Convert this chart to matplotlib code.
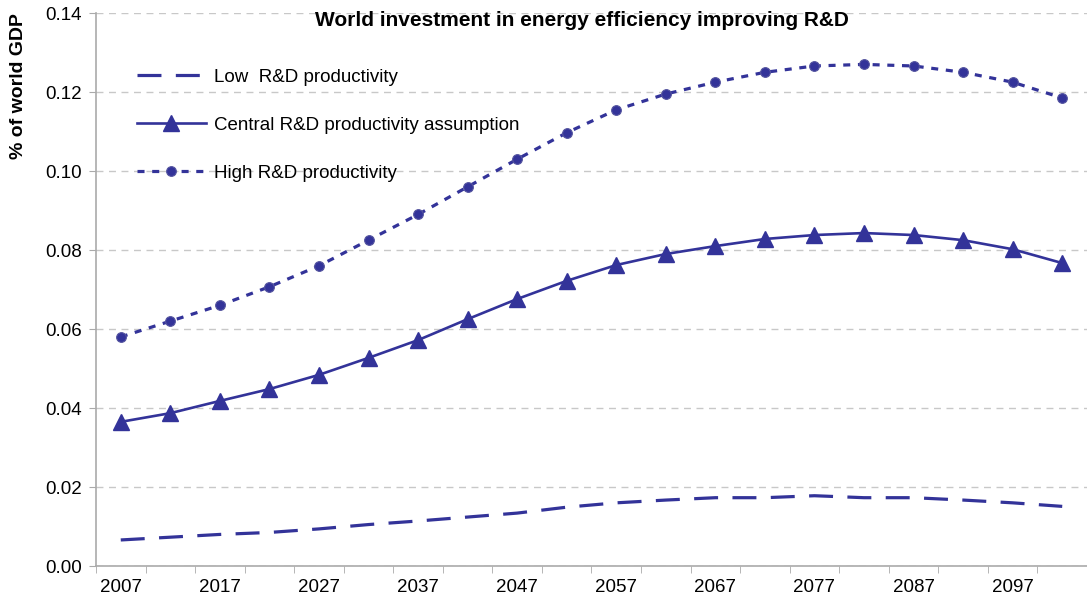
import matplotlib.pyplot as plt

plt.rcParams['font.family'] = ['Liberation Sans', 'DejaVu Sans']

# data
anos = [2007, 2012, 2017, 2022, 2027, 2032, 2037, 2042, 2047, 2052,
        2057, 2062, 2067, 2072, 2077, 2082, 2087, 2092, 2097, 2102]
baixa = [0.0066, 0.0073, 0.0080, 0.0085, 0.0094, 0.0105, 0.0114, 0.0124, 0.0134, 0.0149,
         0.0160, 0.0167, 0.0173, 0.0173, 0.0178, 0.0173, 0.0173, 0.0167, 0.0160, 0.0151]
central = [0.0365, 0.0387, 0.0418, 0.0448, 0.0484, 0.0527, 0.0572, 0.0625, 0.0676, 0.0722,
           0.0762, 0.0790, 0.0810, 0.0828, 0.0838, 0.0843, 0.0838, 0.0825, 0.0802, 0.0767]
alta = [0.0580, 0.0620, 0.0660, 0.0707, 0.0760, 0.0825, 0.0890, 0.0960, 0.1030, 0.1097,
        0.1155, 0.1195, 0.1225, 0.1250, 0.1266, 0.1270, 0.1266, 0.1250, 0.1225, 0.1185]

cor = '#333399'
x = list(range(len(anos)))

fig = plt.figure(figsize=(10.87, 6.07), dpi=100)
ax = fig.add_axes([0.0883, 0.0675, 0.9117, 0.911])

ax.plot(x, baixa, color=cor, lw=2.3, dashes=(7.5, 4.5), label='Low  R&D productivity')
ax.plot(x, central, color=cor, lw=1.9, marker='^', ms=12, label='Central R&D productivity assumption')
ax.plot(x, alta, color=cor, lw=2.3, dashes=(2.2, 2.4), marker='o', ms=7,
        markeredgecolor='#55559f', markeredgewidth=0.8, label='High R&D productivity')

ax.set_ylim(0, 0.14)
ax.set_yticks([0, 0.02, 0.04, 0.06, 0.08, 0.10, 0.12, 0.14])
ax.set_yticklabels(['%.2f' % v for v in ax.get_yticks()], fontsize=13.5)
ax.set_xlim(-0.5, 19.44)
ax.set_xticks(x[::2])
ax.set_xticklabels([str(a) for a in anos[::2]], fontsize=13.5)
ax.set_xticks([i - 0.5 for i in range(len(anos) + 1)], minor=True)
ax.tick_params(axis='x', which='major', length=0, pad=9)
ax.tick_params(axis='x', which='minor', length=5, color='#aaaaaa')
ax.tick_params(axis='y', length=5, color='#aaaaaa', pad=5)

ax.grid(axis='y', color='#c8c8c8', ls=(0, (5, 4)), lw=1)
ax.set_axisbelow(True)
for s in ['top', 'right']:
    ax.spines[s].set_visible(False)
for s in ['left', 'bottom']:
    ax.spines[s].set_color('#aaaaaa')
    ax.spines[s].set_linewidth(1.2)

ax.set_ylabel('% of world GDP', fontsize=14, fontweight='bold')
ax.yaxis.set_label_coords(-0.07, 0.868)
fig.text(0.535, 0.967, 'World investment in energy efficiency improving R&D', fontsize=15,
         fontweight='bold', ha='center', va='center')

ax.legend(loc='upper left', bbox_to_anchor=(0.024, 0.93), frameon=False, fontsize=13.5,
          handlelength=3.7, labelspacing=1.65, handletextpad=0.4)

plt.savefig('out.png', dpi=100)
